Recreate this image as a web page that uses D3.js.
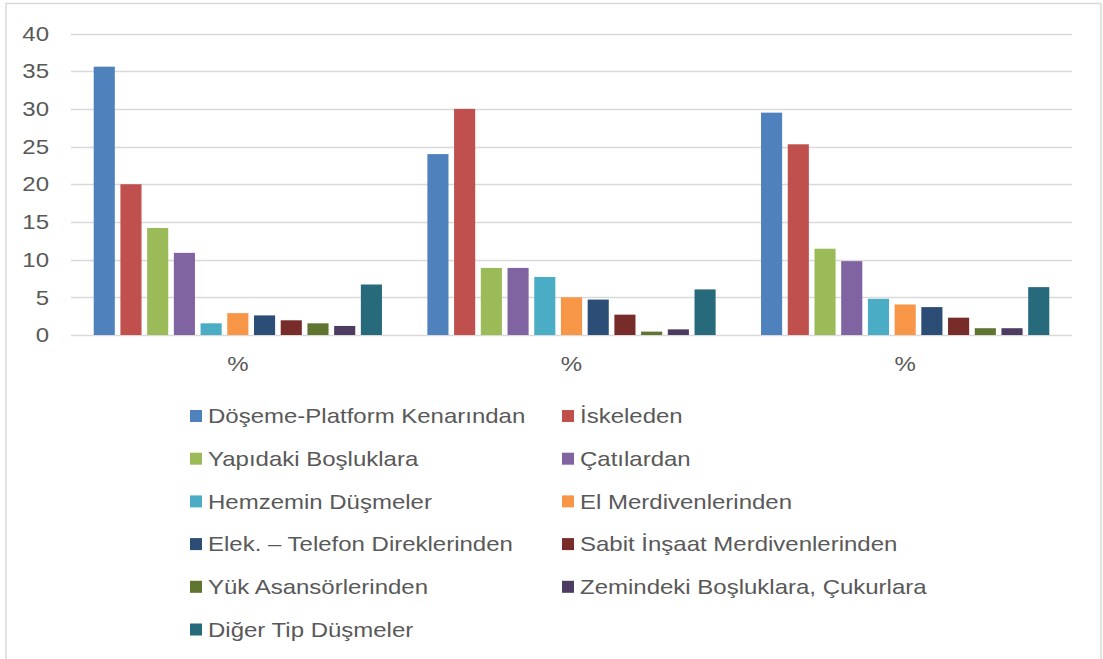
<!DOCTYPE html>
<html>
<head>
<meta charset="utf-8">
<script src="https://cdn.jsdelivr.net/npm/d3@7"></script>
<style>
  body { margin: 0; background: #fff; }
  svg { display: block; font-family: "Liberation Sans", Arial, sans-serif; }
</style>
</head>
<body>
<div id="wrapper"></div>
<script>
// category labels along the x axis (all three are "%")
const categories = ["%", "%", "%"];

// series names, in legend order
const seriesNames = [
   "Döşeme-Platform Kenarından",
   "İskeleden",
   "Yapıdaki Boşluklara",
   "Çatılardan",
   "Hemzemin Düşmeler",
   "El Merdivenlerinden",
   "Elek. – Telefon Direklerinden",
   "Sabit İnşaat Merdivenlerinden",
   "Yük Asansörlerinden",
   "Zemindeki Boşluklara, Çukurlara",
   "Diğer Tip Düşmeler"
];

// one value per series, for each of the three groups
const group1 = [35.6, 20.0, 14.2, 10.9, 1.55, 2.9, 2.6, 1.95, 1.55, 1.2, 6.7];
const group2 = [24.0, 30.0, 8.9, 8.9, 7.7, 5.0, 4.7, 2.7, 0.45, 0.75, 6.05];
const group3 = [29.5, 25.3, 11.45, 9.8, 4.8, 4.05, 3.7, 2.3, 0.9, 0.9, 6.35];

const yTicks = [0, 5, 10, 15, 20, 25, 30, 35, 40];

const colors = ["#4F81BD", "#C0504D", "#9BBB59", "#8064A2", "#4BACC6", "#F79646",
                "#2C4D75", "#772C2A", "#5F7530", "#4D3B62", "#276A7C"];

const groups = [group1, group2, group3];

let width = 1103;
let height = 659;
let stretch = 1.2; // text in the picture is drawn a bit wide
let textColor = "#595959";

let svg = d3.select("#wrapper")
 .append("svg")
   .attr("width", width)
   .attr("height", height);

// outer chart border
svg.append("rect")
   .attr("x", 6).attr("y", 3.5)
   .attr("width", 1095).attr("height", 670)
   .attr("fill", "#fff")
   .attr("stroke", "#d9d9d9")
   .attr("stroke-width", 1.5);

let x0 = d3.scaleBand()
   .domain(d3.range(categories.length))
   .range([71, 1072]);

let x1 = d3.scaleBand()
   .domain(seriesNames)
   .range([0, x0.bandwidth()])
   .paddingInner(0.21)
   .paddingOuter(0.85);

let y = d3.scaleLinear()
   .domain([0, 40])
   .range([335, 33.5]);

let color = d3.scaleOrdinal().domain(seriesNames).range(colors);

// gridlines
svg.append("g")
   .selectAll("line")
   .data(yTicks)
   .join("line")
   .attr("x1", 71).attr("x2", 1072)
   .attr("y1", d => Math.round(y(d)) + 0.5)
   .attr("y2", d => Math.round(y(d)) + 0.5)
   .attr("stroke", "#d9d9d9")
   .attr("stroke-width", 1.3);

// y tick labels
svg.append("g")
   .selectAll("text")
   .data(yTicks)
   .join("text")
   .attr("transform", d => `translate(49,${y(d)}) scale(${stretch},1)`)
   .attr("dy", "0.36em")
   .attr("text-anchor", "end")
   .attr("fill", textColor)
   .style("font-size", "20px")
   .text(d => d);

// bars
let gBars = svg.append("g");
groups.forEach((vals, gi) => {
   gBars.append("g")
      .attr("transform", `translate(${x0(gi)},0)`)
      .selectAll("rect")
      .data(vals.map((v, i) => ({name: seriesNames[i], value: v})))
      .join("rect")
      .attr("x", d => x1(d.name))
      .attr("width", x1.bandwidth())
      .attr("y", d => y(d.value))
      .attr("height", d => y(0) - y(d.value))
      .attr("fill", d => color(d.name));
});

// category labels
svg.append("g")
   .selectAll("text")
   .data(categories)
   .join("text")
   .attr("transform", (d, i) => `translate(${x0(i) + x0.bandwidth() / 2},364) scale(${stretch},1)`)
   .attr("dy", "0.36em")
   .attr("text-anchor", "middle")
   .attr("fill", textColor)
   .style("font-size", "20px")
   .text(d => d);

// legend, two columns
let legend = svg.append("g")
   .selectAll("g")
   .data(seriesNames)
   .join("g")
   .attr("transform", (d, i) => `translate(${i % 2 ? 562 : 190},${416 + Math.floor(i / 2) * 42.7})`);

legend.append("rect")
   .attr("x", 0).attr("y", -6)
   .attr("width", 12).attr("height", 12)
   .attr("fill", d => color(d));

legend.append("text")
   .attr("transform", `translate(18,0) scale(${stretch},1)`)
   .attr("dy", "0.36em")
   .attr("fill", textColor)
   .style("font-size", "20px")
   .text(d => d);
</script>
</body>
</html>
